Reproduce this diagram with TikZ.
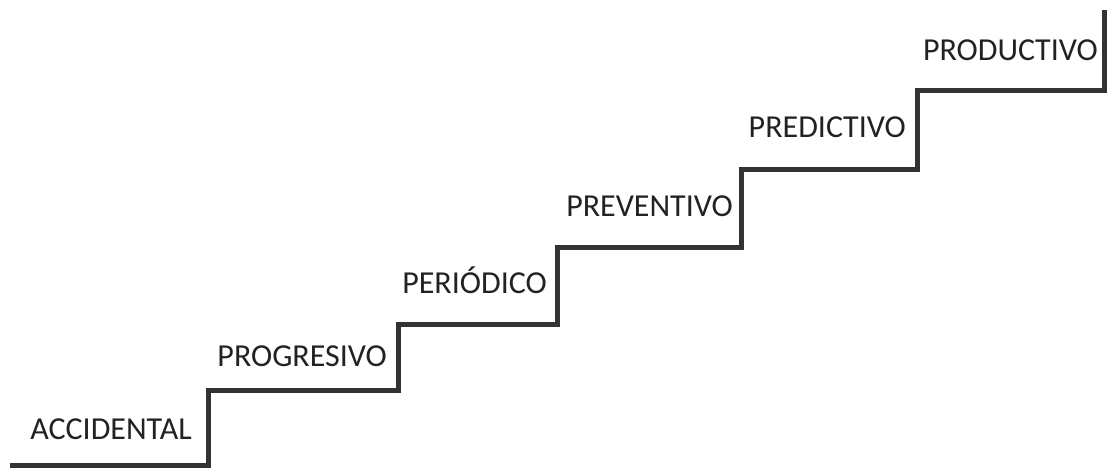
\documentclass[tikz,border=0pt]{standalone}
\usepackage{fontspec}
\setmainfont{Carlito}
\definecolor{stair}{HTML}{333333}
\definecolor{txt}{HTML}{222222}
\begin{document}
\begin{tikzpicture}[x=1pt,y=-1pt,
  stairline/.style={draw=stair,line width=5pt,line join=miter,line cap=butt},
  lbl/.style={anchor=base east,inner sep=0pt,text=txt,font=\fontsize{32}{38}\selectfont}]
\useasboundingbox (0,0) rectangle (1107,468);
\coordinate (s0) at (10,465.5);
\coordinate (s1) at (208,465.5);
\coordinate (s2) at (208,390);
\coordinate (s3) at (398,390);
\coordinate (s4) at (398,324);
\coordinate (s5) at (557,324);
\coordinate (s6) at (557,247);
\coordinate (s7) at (741,247);
\coordinate (s8) at (741,169);
\coordinate (s9) at (917,169);
\coordinate (s10) at (917,91);
\coordinate (s11) at (1104,91);
\coordinate (s12) at (1104,10);
\draw[stairline] (s0) -- (s1) -- (s2) -- (s3) -- (s4) -- (s5) -- (s6) -- (s7) -- (s8) -- (s9) -- (s10) -- (s11) -- (s12);
\node[lbl] (accidental) at (192,439) {ACCIDENTAL};
\node[lbl] (progresivo) at (387,366) {PROGRESIVO};
\node[lbl] (periodico) at (547,293) {PERIÓDICO};
\node[lbl] (preventivo) at (733,216) {PREVENTIVO};
\node[lbl] (predictivo) at (906,137) {PREDICTIVO};
\node[lbl] (productivo) at (1098,61) {PRODUCTIVO};
\end{tikzpicture}
\end{document}
